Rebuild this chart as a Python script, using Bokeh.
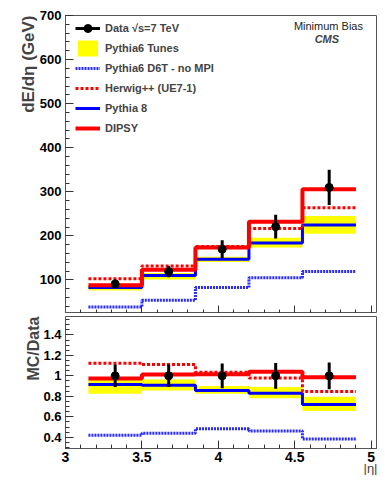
import numpy as np
from bokeh.plotting import figure
from bokeh.models import (Range1d, Title, Legend, LegendItem, Label, FixedTicker,
                          CustomJSTickFormatter)
from bokeh.layouts import column
from bokeh.embed import file_html
from bokeh.resources import INLINE

# ---------------- data ----------------
edges = [3.15, 3.5, 3.85, 4.2, 4.55, 4.9]
centers = [3.325, 3.675, 4.025, 4.375, 4.725]

data_val = [91, 119, 170, 221, 310]
data_err = [10, 13, 20, 27, 40]
dipsy = [88, 123, 174, 232, 306]
herwig = [103, 132, 176, 217, 264]
pythia8 = [83, 110, 147, 184, 225]
d6t = [39, 54, 83, 105, 119]
tunes_lo = [76, 101, 141, 174, 205]
tunes_hi = [89, 116, 153, 196, 245]

r_data = [1.0, 1.0, 1.0, 1.0, 1.0]
r_err = [0.11, 0.11, 0.12, 0.125, 0.13]
r_dipsy = [0.975, 1.013, 1.015, 1.04, 0.987]
r_herwig = [1.124, 1.11, 1.036, 0.98, 0.848]
r_pythia8 = [0.916, 0.909, 0.857, 0.83, 0.72]
r_d6t = [0.42, 0.44, 0.483, 0.46, 0.383]
r_tunes_lo = [0.824, 0.857, 0.824, 0.78, 0.656]
r_tunes_hi = [0.96, 0.965, 0.90, 0.89, 0.795]

x_major = [3, 3.5, 4, 4.5, 5]
top_major = [100, 200, 300, 400, 500, 600, 700]
bot_major = [0.4, 0.6, 0.8, 1.0, 1.2, 1.4]

FONT = "Liberation Sans"
YELLOW = "#ffff00"
RED = "#ff0000"
BLUE = "#0000ff"
DBLUE = "#2a2aff"
FRAME = "#555555"

X_END = 5.041


def style(p, yticks, yminor):
    p.background_fill_color = "white"
    p.border_fill_color = "white"
    p.outline_line_color = FRAME
    p.outline_line_width = 1
    p.xgrid.visible = False
    p.ygrid.visible = False
    for ax in (p.xaxis[0], p.yaxis[0]):
        ax.axis_line_color = FRAME
        ax.major_tick_line_color = "#333333"
        ax.minor_tick_line_color = "#333333"
        ax.major_tick_out = 0
        ax.minor_tick_out = 0
        ax.major_tick_in = 8
        ax.minor_tick_in = 4
        ax.major_label_text_font = FONT
        ax.major_label_text_font_style = "bold"
        ax.major_label_text_color = "black"
    p.xaxis[0].ticker = FixedTicker(ticks=x_major,
                                    minor_ticks=[round(3 + 0.1 * i, 2) for i in range(21)])
    p.yaxis[0].ticker = FixedTicker(ticks=yticks, minor_ticks=yminor)


def step(p, vals, **kw):
    return p.step(x=edges, y=list(vals) + [vals[-1]], mode="after", **kw)


# ---------------- top panel ----------------
p1 = figure(width=377, height=313, output_backend="svg", toolbar_location=None,
            x_range=Range1d(3, X_END), y_range=Range1d(24, 700),
            min_border_left=65, min_border_right=0, min_border_top=15, min_border_bottom=0)
style(p1, top_major, list(range(40, 701, 20)))
p1.yaxis[0].major_label_text_font_size = "13px"
p1.yaxis[0].major_label_standoff = 4
p1.xaxis[0].formatter = CustomJSTickFormatter(code="return ''")
p1.xaxis[0].major_label_standoff = 0
p1.add_layout(Title(text="dE/dη (GeV)", align="right", text_font=FONT,
                    text_font_style="bold", text_font_size="17px", standoff=-3), "left")

band = p1.quad(left=edges[:-1], right=edges[1:], bottom=tunes_lo, top=tunes_hi,
               fill_color=YELLOW, line_color=None)
r_d6t_t = step(p1, d6t, line_color=DBLUE, line_width=3, line_dash="2 1")
r_p8_t = step(p1, pythia8, line_color=BLUE, line_width=3)
r_hw_t = step(p1, herwig, line_color=RED, line_width=3, line_dash="3 2")
r_dp_t = step(p1, dipsy, line_color=RED, line_width=4)
err_t = p1.segment(x0=centers, x1=centers,
                   y0=[v - e for v, e in zip(data_val, data_err)],
                   y1=[v + e for v, e in zip(data_val, data_err)],
                   line_color="black", line_width=3)
pts_t = p1.scatter(x=centers, y=data_val, size=8, fill_color="black", line_color="black")

legend = Legend(items=[
    LegendItem(label="Data √s=7 TeV", renderers=[err_t, pts_t]),
    LegendItem(label="Pythia6 Tunes", renderers=[band]),
    LegendItem(label="Pythia6 D6T - no MPI", renderers=[r_d6t_t]),
    LegendItem(label="Herwig++ (UE7-1)", renderers=[r_hw_t]),
    LegendItem(label="Pythia 8", renderers=[r_p8_t]),
    LegendItem(label="DIPSY", renderers=[r_dp_t]),
], location=(0, 165))
legend.margin = 0
legend.padding = 10
legend.spacing = 0
legend.glyph_width = 25
legend.glyph_height = 20
legend.label_height = 20
legend.label_standoff = 5
legend.label_text_font = FONT
legend.label_text_font_style = "bold"
legend.label_text_font_size = "11px"
legend.background_fill_alpha = 0
legend.border_line_alpha = 0
p1.add_layout(legend)

p1.add_layout(Label(x=4.72, y=677, text="Minimum Bias", text_font=FONT,
                    text_font_size="11px", text_align="center", text_baseline="middle",
                    text_color="#222222"))
p1.add_layout(Label(x=4.71, y=646, text="CMS", text_font=FONT, text_font_style="bold italic",
                    text_font_size="11px", text_align="center", text_baseline="middle"))

# ---------------- ratio panel ----------------
p2 = figure(width=377, height=162, output_backend="svg", toolbar_location=None,
            x_range=p1.x_range, y_range=Range1d(0.29, 1.58),
            min_border_left=65, min_border_right=0, min_border_top=3, min_border_bottom=27)
style(p2, bot_major, [round(0.3 + 0.05 * i, 2) for i in range(26)])
p2.yaxis[0].major_label_text_font_size = "13px"
p2.yaxis[0].major_label_standoff = 4
p2.xaxis[0].major_label_text_font_size = "14px"
p2.xaxis[0].major_label_standoff = 3
p2.add_layout(Title(text="MC/Data", align="right", text_font=FONT,
                    text_font_style="bold", text_font_size="16px", standoff=-3), "left")
p2.add_layout(Title(text="|η|", align="right", text_font=FONT, text_font_style="normal",
                    text_font_size="13px", standoff=-11), "below")

p2.quad(left=edges[:-1], right=edges[1:], bottom=r_tunes_lo, top=r_tunes_hi,
        fill_color=YELLOW, line_color=None)
step(p2, r_d6t, line_color=DBLUE, line_width=3, line_dash="2 1")
step(p2, r_pythia8, line_color=BLUE, line_width=3)
step(p2, r_herwig, line_color=RED, line_width=3, line_dash="3 2")
step(p2, r_dipsy, line_color=RED, line_width=4)
p2.segment(x0=centers, x1=centers,
           y0=[v - e for v, e in zip(r_data, r_err)],
           y1=[v + e for v, e in zip(r_data, r_err)],
           line_color="black", line_width=3)
p2.scatter(x=centers, y=r_data, size=8, fill_color="black", line_color="black")

layout = column(p1, p2, spacing=0)
open("out.html", "w").write(file_html(layout, INLINE))
